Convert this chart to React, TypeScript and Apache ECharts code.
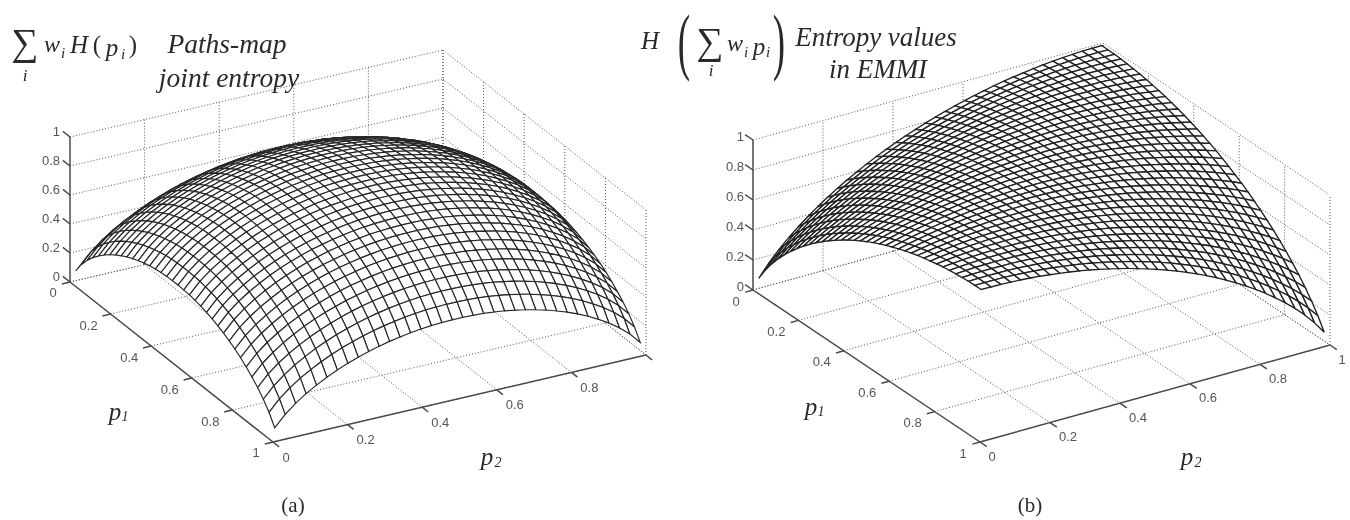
import React, { useEffect, useRef } from "react";
import * as echarts from "echarts";

// ---------- data ----------
const tickValues = [0, 0.2, 0.4, 0.6, 0.8, 1];
const meshP = [.01,.038,.066,.094,.122,.15,.178,.206,.234,.262,.29,.318,.346,.374,.402,.43,.458,.486,.514,.542,.57,.598,.626,.654,.682,.71,.738,.766,.794,.822,.85,.878,.906,.934,.962,.99];

// panel (a): height in thousandths. Each row is one p1 mesh line up to p2 = 0.5; rows mirror about 0.5
const a00 = [81,157,216,266,308,346,379,408,433,456,475,492,506,518,527,534,538,540];
const a01 = [157,233,292,342,384,422,455,484,509,532,551,568,582,594,603,610,614,616];
const a02 = [216,292,351,401,443,481,514,543,568,591,610,627,641,653,662,669,673,675];
const a03 = [266,342,401,450,493,530,563,592,618,640,660,676,691,702,712,718,723,725];
const a04 = [308,384,443,493,535,573,606,635,660,683,702,719,733,745,754,761,765,767];
const a05 = [346,422,481,530,573,610,643,672,698,720,740,756,771,782,792,798,803,805];
const a06 = [379,455,514,563,606,643,676,705,731,753,773,789,804,815,825,831,836,838];
const a07 = [408,484,543,592,635,672,705,734,760,782,802,818,833,844,854,860,865,867];
const a08 = [433,509,568,618,660,698,731,760,785,808,827,844,858,870,879,886,890,892];
const a09 = [456,532,591,640,683,720,753,782,808,830,850,866,881,892,902,908,913,915];
const a10 = [475,551,610,660,702,740,773,802,827,850,869,886,900,912,921,928,932,934];
const a11 = [492,568,627,676,719,756,789,818,844,866,886,902,917,928,938,944,949,951];
const a12 = [506,582,641,691,733,771,804,833,858,881,900,917,931,943,952,959,963,965];
const a13 = [518,594,653,702,745,782,815,844,870,892,912,928,943,954,964,970,975,977];
const a14 = [527,603,662,712,754,792,825,854,879,902,921,938,952,964,972,979,984,986];
const a15 = [534,610,669,718,761,798,831,860,886,908,928,944,959,970,979,986,991,993];
const a16 = [538,614,673,723,765,803,836,865,890,913,932,949,963,975,984,991,995,997];
const a17 = [540,616,675,725,767,805,838,867,892,915,934,951,965,977,986,993,997,999];
const halfRowsA = [a00,a01,a02,a03,a04,a05,a06,a07,a08,a09,a10,a11,a12,a13,a14,a15,a16,a17];
const surfaceA = [...halfRowsA, ...[...halfRowsA].reverse()].map((r) => [...r, ...[...r].reverse()]);

// panel (b): height in thousandths along the mesh diagonals (constant for equal p1 + p2), up to the ridge
const ridgeHalfB = [81,163,233,295,351,402,450,494,535,574,610,644,676,706,734,760,785,808,830,850,869,886,902,917,931,943,954,963,972,980,986,991,995,998,999,1000];
const ridgeB = [...ridgeHalfB, ...ridgeHalfB.slice(0, -1).reverse()];
const surfaceB = meshP.map((_, i) => ridgeB.slice(i, i + meshP.length));

// ---------- layout ----------
const viewA = {
  x0: 70, y0: 282, ex: [203, 160], ey: [373, -87], zh: 145, stroke: "#262626", lw: 1.15,
  zLabel: [-10, -6], p1Dec: [-22, 11], p1Int: [-17, 10], p2Dec: [18, 15], p2Int: [13, 15], p2Ticks: [0, 0.2, 0.4, 0.6, 0.8],
};
const viewB = {
  x0: 753, y0: 290, ex: [227, 152], ey: [350, -97], zh: 150, stroke: "#222", lw: 1.35,
  zLabel: [-9, -4], p1Dec: [-22, 11], p1Int: [-17, 11], p2Dec: [18, 14], p2Int: [12, 14], p2Ticks: tickValues,
};
const SANS = '"Liberation Sans", Arial, sans-serif';
const SERIF = '"Liberation Serif", "Times New Roman", serif';
const INK = "#2a2a2a";

type View = typeof viewA;
const project = (v: View, p1: number, p2: number, z: number) => [
  v.x0 + v.ex[0] * p1 + v.ey[0] * p2,
  v.y0 + v.ex[1] * p1 + v.ey[1] * p2 - v.zh * z,
];

function frameSeries(v: View) {
  const dotted: number[][] = [];
  const solid: number[][] = [];
  tickValues.forEach((t) => {
    dotted.push([t, 0, 0, t, 1, 0]);
    dotted.push([0, t, 0, 1, t, 0]);
    dotted.push([0, 0, t, 0, 1, t]);
    dotted.push([0, 1, t, 1, 1, t]);
    if (t > 0) dotted.push([0, t, 0, 0, t, 1]);
    dotted.push([t, 1, 0, t, 1, 1]);
    solid.push([0, 0, t, -0.035, 0, t]);
    solid.push([t, 0, 0, t, -0.022, 0]);
    solid.push([1, t, 0, 1.03, t, 0]);
  });
  solid.push([0, 0, 0, 0, 0, 1], [0, 0, 0, 1, 0, 0], [1, 0, 0, 1, 1, 0]);
  const mk = (data: number[][], style: any, z: number) => ({
    type: "custom", coordinateSystem: "cartesian2d", silent: true, clip: false, progressive: 0, z,
    encode: { x: 0, y: 1 }, data,
    renderItem: (_: any, api: any) => {
      const a = api.coord(project(v, api.value(0), api.value(1), api.value(2)));
      const b = api.coord(project(v, api.value(3), api.value(4), api.value(5)));
      return { type: "line", shape: { x1: a[0], y1: a[1], x2: b[0], y2: b[1] }, style };
    },
  });
  return [
    mk(dotted, { stroke: "#555", lineWidth: 1, lineDash: [1, 2], fill: null }, 1),
    mk(solid, { stroke: "#4a4a4a", lineWidth: 1.5, fill: null }, 3),
  ];
}

function surfaceSeries(v: View, table: number[][]) {
  const cells: number[][] = [];
  for (let i = 0; i < meshP.length - 1; i++)
    for (let j = meshP.length - 2; j >= 0; j--) cells.push([i, j]);
  return {
    type: "custom", coordinateSystem: "cartesian2d", silent: true, clip: false, progressive: 0, z: 2,
    encode: { x: 0, y: 1 }, data: cells,
    renderItem: (_: any, api: any) => {
      const i = api.value(0), j = api.value(1);
      const corner = (a: number, b: number) => api.coord(project(v, meshP[a], meshP[b], table[a][b] / 1000));
      return {
        type: "polygon",
        shape: { points: [corner(i, j), corner(i + 1, j), corner(i + 1, j + 1), corner(i, j + 1)] },
        style: { fill: "#fff", stroke: v.stroke, lineWidth: v.lw },
      };
    },
  };
}

function labelSeries(v: View) {
  const labels: { t: string; at: number[]; align: string }[] = [];
  tickValues.forEach((t) => {
    const s = String(t);
    const whole = t === 0 || t === 1;
    const zp = project(v, 0, 0, t);
    labels.push({ t: s, at: [zp[0] + v.zLabel[0], zp[1] + v.zLabel[1]], align: "right" });
    const p1p = project(v, t, 0, 0);
    const d1 = whole ? v.p1Int : v.p1Dec;
    labels.push({ t: s, at: [p1p[0] + d1[0], p1p[1] + d1[1]], align: "center" });
  });
  v.p2Ticks.forEach((t) => {
    const p = project(v, 1, t, 0);
    const d = t === 0 || t === 1 ? v.p2Int : v.p2Dec;
    labels.push({ t: String(t), at: [p[0] + d[0], p[1] + d[1]], align: "center" });
  });
  return {
    type: "custom", coordinateSystem: "cartesian2d", silent: true, clip: false, progressive: 0, z: 4,
    encode: { x: 0, y: 1 }, data: labels.map((l) => l.at),
    renderItem: (p: any, api: any) => {
      const l = labels[p.dataIndex];
      const c = api.coord(l.at);
      return {
        type: "text", x: c[0], y: c[1],
        style: { text: l.t, font: `13px ${SANS}`, fill: "#555", align: l.align, textAlign: l.align, verticalAlign: "middle", textVerticalAlign: "middle" },
      };
    },
  };
}

const piece = (text: string, x: number, y: number, size: number, italic = true, extra: any = {}) => ({
  type: "text", x, y, silent: true, z: 10, ...extra,
  style: {
    text, font: `${italic ? "italic " : ""}${size}px ${SERIF}`, fill: INK,
    align: "center", textAlign: "center", verticalAlign: "middle", textVerticalAlign: "middle",
  },
});

const titlePieces = [
  piece("∑", 25, 42, 38, false),
  piece("i", 25, 75, 17),
  piece("w", 52, 44, 24),
  piece("i", 63, 53, 15),
  piece("H", 79, 44, 25),
  piece("(", 97, 44, 25, false),
  piece("p", 112, 47, 25),
  piece("i", 123, 54, 15),
  piece(")", 133, 44, 25, false),
  piece("Paths-map", 227, 43, 27.5),
  piece("joint entropy", 229, 77, 27.5),
  piece("p", 115, 411, 25),
  piece("1", 125, 416, 14),
  piece("p", 487, 456, 25),
  piece("2", 498, 462, 14),
  piece("(a)", 293, 505, 21, false),

  piece("H", 650, 40, 25),
  piece("(", 684, 41, 74, false, { scaleX: 0.5 }),
  piece("∑", 710, 41, 38, false),
  piece("i", 711, 70, 17),
  piece("w", 735, 43, 24),
  piece("i", 746, 52, 15),
  piece("p", 759, 46, 25),
  piece("i", 768, 52, 15),
  piece(")", 779, 41, 74, false, { scaleX: 0.5 }),
  piece("Entropy values", 876, 37, 27),
  piece("in EMMI", 878, 69, 27),
  piece("p", 811, 406, 25),
  piece("1", 821, 411, 14),
  piece("p", 1187, 456, 25),
  piece("2", 1198, 462, 14),
  piece("(b)", 1030, 505, 21, false),
];

export default function App() {
  const ref = useRef<HTMLDivElement>(null);
  useEffect(() => {
    const chart = echarts.init(ref.current!, null, { renderer: "svg" });
    chart.setOption({
      animation: false,
      backgroundColor: "#fff",
      grid: { left: 0, right: 0, top: 0, bottom: 0 },
      xAxis: { type: "value", min: 0, max: 1350, show: false },
      yAxis: { type: "value", min: 0, max: 520, inverse: true, show: false },
      series: [
        ...frameSeries(viewA),
        surfaceSeries(viewA, surfaceA),
        labelSeries(viewA),
        ...frameSeries(viewB),
        surfaceSeries(viewB, surfaceB),
        labelSeries(viewB),
      ],
      graphic: { elements: titlePieces },
    });
    return () => chart.dispose();
  }, []);
  return (
    <div
      ref={ref}
      style={{ position: "absolute", left: 0, top: 0, width: 1350, height: 520, filter: "blur(0.4px)" }}
    />
  );
}
